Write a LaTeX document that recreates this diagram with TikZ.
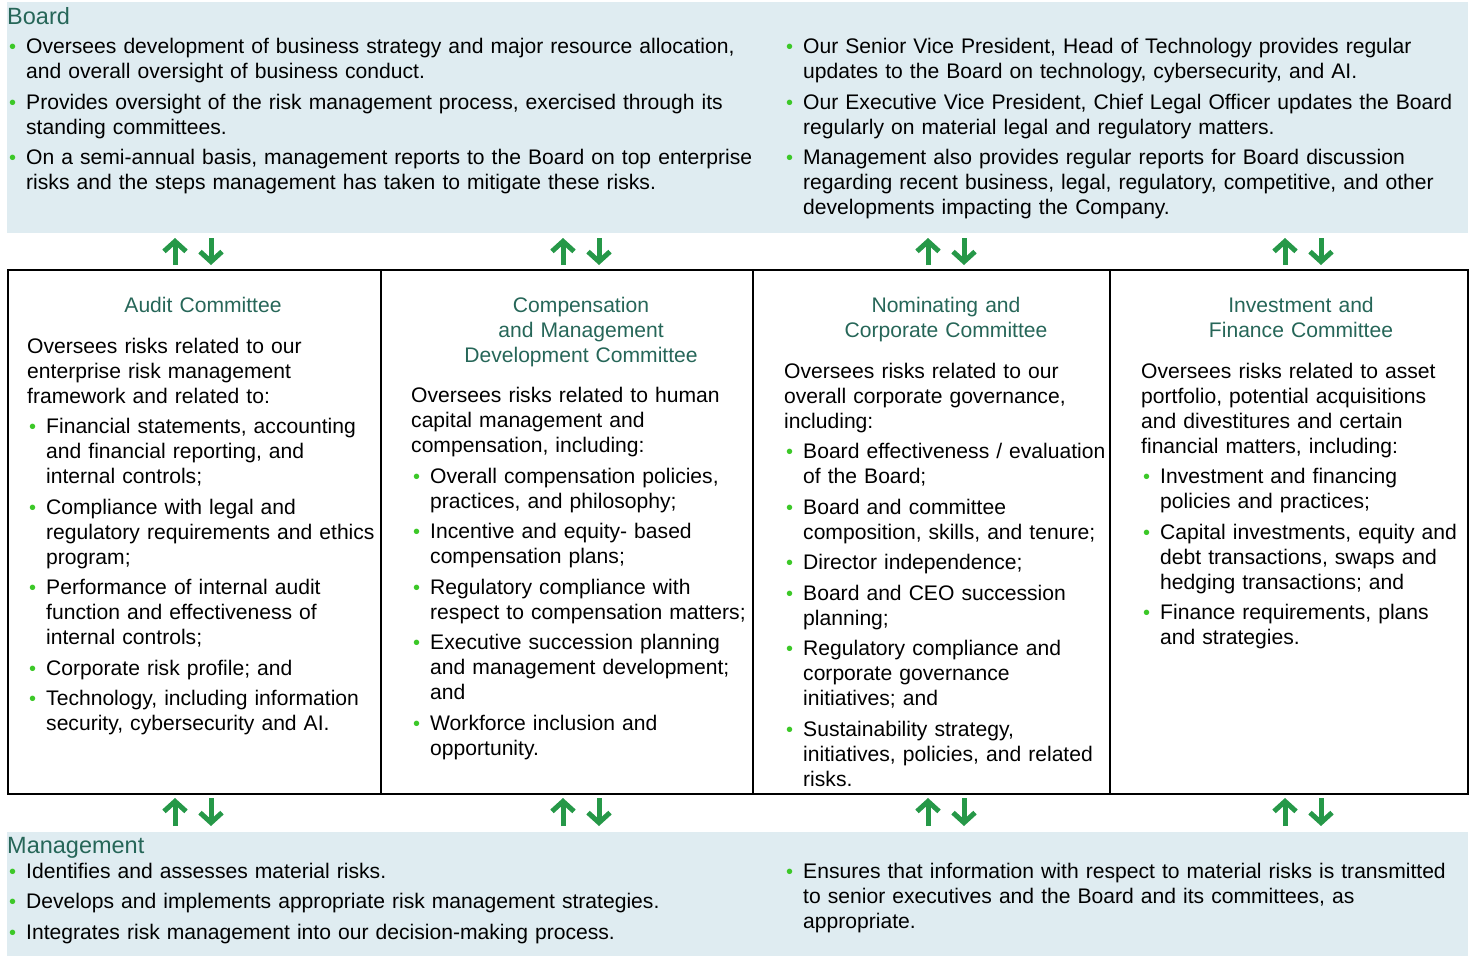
\documentclass[tikz,border=0pt]{standalone}
\usepackage{fontspec}
\setmainfont{Liberation Sans}
\usetikzlibrary{arrows.meta}
\definecolor{bandblue}{RGB}{223,236,241}
\definecolor{headteal}{RGB}{38,102,88}
\definecolor{arrowgreen}{RGB}{38,152,72}
\definecolor{dotgreen}{RGB}{60,200,40}
% bullet line with hanging indent
\newcommand{\bfirst}[1]{\hangindent=19pt\hangafter=1\noindent\makebox[19pt][l]{\hspace{2pt}\textcolor{dotgreen}{\fontsize{20}{20}\selectfont\textbullet}}#1\par}
\newcommand{\bitem}[1]{\par\addvspace{5.5pt}\bfirst{#1}}

\begin{document}
\begin{tikzpicture}[x=1pt,y=1pt,yscale=-1,
  body/.style={anchor=base west,inner sep=0pt,text width=#1,align=left,font=\fontsize{21.1}{25}\selectfont},
  body/.default=400pt,
  head/.style={anchor=base,inner sep=0pt,text width=340pt,align=center,text=headteal,font=\fontsize{21.1}{25}\selectfont},
  bandtitle/.style={anchor=base west,inner sep=0pt,text=headteal,font=\fontsize{23.5}{25}\selectfont},
  updown/.style={draw=arrowgreen,line width=5pt,-{Straight Barb[length=10pt,width=22pt]}}]
\useasboundingbox (0,0) rectangle (1473,956);

%Board band
\fill[bandblue] (7,2) rectangle (1468,233);
\node[bandtitle] (board) at (7,24) {Board};
\node[body=780pt] (boardl) at (7,53.5) {%
\bfirst{Oversees development of business strategy and major resource allocation,\newline and overall oversight of business conduct.}
\bitem{Provides oversight of the risk management process, exercised through its\newline standing committees.}
\bitem{On a semi-annual basis, management reports to the Board on top enterprise\newline risks and the steps management has taken to mitigate these risks.}};
\node[body=780pt] (boardr) at (784,53.5) {%
\bfirst{Our Senior Vice President, Head of Technology provides regular\newline updates to the Board on technology, cybersecurity, and AI.}
\bitem{Our Executive Vice President, Chief Legal Officer updates the Board\newline regularly on material legal and regulatory matters.}
\bitem{Management also provides regular reports for Board discussion\newline regarding recent business, legal, regulatory, competitive, and other\newline developments impacting the Company.}};

%Arrows between the levels
\foreach \cx in {193,581,946,1303}{
  \draw[updown] (\cx-18,265) -- (\cx-18,238);
  \draw[updown] (\cx+18,238) -- (\cx+18,265);
  \draw[updown] (\cx-18,826) -- (\cx-18,798);
  \draw[updown] (\cx+18,798) -- (\cx+18,826);
}

%Committee boxes
\draw[line width=2.5pt] (8,270) rectangle (1468,794);
\draw[line width=2pt] (381,270) -- (381,794) (753,270) -- (753,794) (1110,270) -- (1110,794);

%Audit
\node[head] (audith) at (203,312) {Audit Committee};
\node[body] (audit) at (27,353) {%
Oversees risks related to our\newline enterprise risk management\newline framework and related to:
\bitem{Financial statements, accounting\newline and financial reporting, and\newline internal controls;}
\bitem{Compliance with legal and\newline regulatory requirements and ethics\newline program;}
\bitem{Performance of internal audit\newline function and effectiveness of\newline internal controls;}
\bitem{Corporate risk profile; and}
\bitem{Technology, including information\newline security, cybersecurity and AI.}};

%Compensation
\node[head] (comph) at (581,312) {Compensation\\and Management\\Development Committee};
\node[body] (comp) at (411,402.5) {%
Oversees risks related to human\newline capital management and\newline compensation, including:
\bitem{Overall compensation policies,\newline practices, and philosophy;}
\bitem{Incentive and equity- based\newline compensation plans;}
\bitem{Regulatory compliance with\newline respect to compensation matters;}
\bitem{Executive succession planning\newline and management development;\newline and}
\bitem{Workforce inclusion and\newline opportunity.}};

%Nominating
\node[head] (nomh) at (946,312) {Nominating and\\Corporate Committee};
\node[body] (nom) at (784,378) {%
Oversees risks related to our\newline overall corporate governance,\newline including:
\bitem{Board effectiveness / evaluation\newline of the Board;}
\bitem{Board and committee\newline composition, skills, and tenure;}
\bitem{Director independence;}
\bitem{Board and CEO succession\newline planning;}
\bitem{Regulatory compliance and\newline corporate governance\newline initiatives; and}
\bitem{Sustainability strategy,\newline initiatives, policies, and related\newline risks.}};

%Investment
\node[head] (invh) at (1301,312) {Investment and\\Finance Committee};
\node[body] (inv) at (1141,378) {%
Oversees risks related to asset\newline portfolio, potential acquisitions\newline and divestitures and certain\newline financial matters, including:
\bitem{Investment and financing\newline policies and practices;}
\bitem{Capital investments, equity and\newline debt transactions, swaps and\newline hedging transactions; and}
\bitem{Finance requirements, plans\newline and strategies.}};

%Management band
\fill[bandblue] (7,832) rectangle (1468,956);
\node[bandtitle] (mgmt) at (7,853) {Management};
\node[body=780pt] (mgmtl) at (7,878) {%
\bfirst{Identifies and assesses material risks.}
\bitem{Develops and implements appropriate risk management strategies.}
\bitem{Integrates risk management into our decision-making process.}};
\node[body=780pt] (mgmtr) at (784,878) {%
\bfirst{Ensures that information with respect to material risks is transmitted\newline to senior executives and the Board and its committees, as\newline appropriate.}};
\end{tikzpicture}
\end{document}
